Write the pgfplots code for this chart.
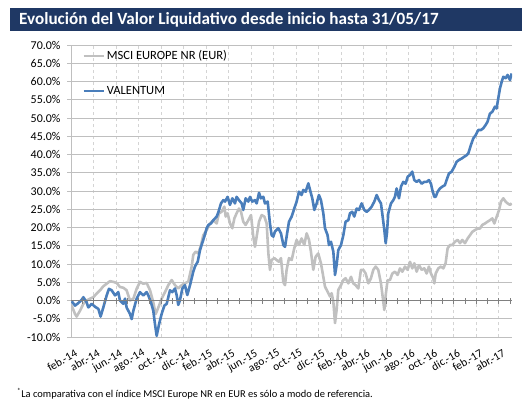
\documentclass[border=0pt]{standalone}
\usepackage{pgfplots}
\pgfplotsset{compat=1.18}
\usepackage{fontspec}
\setmainfont{Carlito}
\definecolor{titlebg}{HTML}{1F3864}
\definecolor{valblue}{HTML}{4A7EBB}
\definecolor{mscigray}{HTML}{C0C0C0}
\definecolor{hgrid}{HTML}{BFBFBF}
\definecolor{vgrid}{HTML}{D4D4D4}
\definecolor{zeroline}{HTML}{808080}

\begin{document}
\begin{tikzpicture}[x=1bp,y=1bp]
\useasboundingbox (0,0) rectangle (522,399);
\fill[titlebg] (10,368) rectangle (522,391);
\node[anchor=west, text=white, inner sep=0] at (19,379.5) {\fontsize{17.2}{20}\selectfont\bfseries Evolución del Valor Liquidativo desde inicio hasta 31/05/17};
\node[anchor=base west, inner sep=0] at (17,1.5) {\fontsize{10.5}{12}\selectfont\textsuperscript{*}La comparativa con el índice MSCI Europe NR en EUR es sólo a modo de referencia.};

\begin{axis}[
  at={(71bp,62bp)}, anchor=south west,
  scale only axis, width=441bp, height=292bp,
  xmin=0, xmax=39.17, ymin=-10, ymax=70,
  axis x line*=bottom, axis y line*=left,
  axis line style={hgrid, line width=1bp},
  xtick={0,2,...,38},
  xticklabels={feb.-14,abr.-14,jun.-14,ago.-14,oct.-14,dic.-14,feb.-15,abr.-15,jun.-15,ago.-15,oct.-15,dic.-15,feb.-16,abr.-16,jun.-16,ago.-16,oct.-16,dic.-16,feb.-17,abr.-17},
  ytick={-10,-5,...,70},
  yticklabel={\pgfmathprintnumber[fixed,fixed zerofill,precision=1]{\tick}\%},
  /pgf/number format/assume math mode=true,
  ticklabel style={font=\fontsize{12}{14}\selectfont, text=black},
  yticklabel style={xshift=-3bp},
  xticklabel style={rotate=30, anchor=north east, inner sep=1bp, yshift=-7bp, font=\fontsize{11.5}{13}\selectfont},
  x tick style={draw=none},
  y tick style={hgrid, line width=1bp},
  tick align=outside, major tick length=4bp,
  ymajorgrids, xmajorgrids,
  y grid style={hgrid, line width=1bp},
  x grid style={vgrid, line width=0.8bp, dash pattern=on 3bp off 3bp},
  legend style={draw=none, fill=none, at={(0.025,0.988)}, anchor=north west,
    font=\fontsize{12.6}{14}\selectfont, row sep=21bp, inner sep=0pt},
  legend cell align=left,
  legend image code/.code={\draw[#1] (0bp,0bp) -- (20bp,0bp);},
]
\addplot[color=mscigray, line width=2.6bp, line join=round] table {
0.06 -1.4
0.36 -3.7
0.50 -4.4
0.80 -2.8
1.10 -0.9
1.39 0.0
1.69 0.5
1.98 0.9
2.28 1.9
2.58 2.8
2.87 3.9
3.17 4.6
3.46 5.3
3.76 5.1
4.06 4.8
4.35 3.7
4.65 3.5
4.94 2.8
5.24 0.0
5.54 0.5
5.83 3.2
6.13 5.1
6.42 4.6
6.72 4.8
7.02 2.8
7.31 -0.5
7.52 -3.7
7.76 -1.9
8.05 0.5
8.35 2.3
8.64 4.2
8.94 5.6
9.24 4.2
9.53 3.3
9.83 4.2
10.12 4.7
10.42 5.2
10.72 9.3
10.86 12.5
11.07 13.4
11.31 12.9
11.55 15.2
11.75 17.9
12.05 19.3
12.34 21.1
12.64 22.0
12.94 21.1
13.14 23.9
13.38 24.3
13.62 25.7
13.74 23.0
13.91 23.9
14.12 21.1
14.33 19.8
14.51 22.5
14.71 23.9
14.92 25.2
15.10 24.3
15.30 21.6
15.51 20.7
15.75 22.0
15.99 23.4
16.19 17.5
16.34 14.7
16.49 17.5
16.70 21.6
16.93 23.4
17.17 23.0
17.38 21.1
17.53 12.9
17.67 8.4
17.82 11.1
18.06 11.6
18.26 11.1
18.47 10.6
18.65 11.6
18.86 5.0
19.01 4.2
19.15 8.4
19.36 11.6
19.60 11.1
19.83 14.3
20.04 16.6
20.25 15.2
20.48 17.0
20.72 15.2
20.93 18.4
21.14 16.6
21.31 13.4
21.52 8.4
21.73 12.0
21.96 12.9
22.20 10.2
22.41 6.5
22.56 3.8
22.79 2.4
23.00 1.1
23.15 2.0
23.30 -0.3
23.45 -6.2
23.59 -2.6
23.74 2.9
23.98 4.2
24.19 5.6
24.39 6.1
24.63 4.7
24.87 6.5
25.07 4.7
25.28 4.2
25.52 3.3
25.75 8.4
25.96 8.4
26.17 7.4
26.41 4.7
26.64 6.1
26.85 8.4
27.06 9.3
27.29 8.4
27.53 4.7
27.68 1.1
27.83 -2.6
27.97 2.0
28.12 5.6
28.33 5.6
28.54 7.4
28.77 7.9
29.01 7.0
29.22 8.8
29.43 7.9
29.66 9.3
29.90 8.4
30.11 10.6
30.31 8.8
30.49 10.2
30.70 7.9
30.91 9.7
31.14 8.4
31.38 8.8
31.59 7.4
31.79 9.3
31.97 7.4
32.18 6.1
32.27 4.7
32.39 7.4
32.62 8.8
32.86 9.3
33.07 8.8
33.27 10.2
33.45 14.3
33.66 15.2
33.87 15.2
34.10 16.1
34.34 16.6
34.55 15.7
34.75 16.6
34.99 15.7
35.23 17.0
35.44 17.9
35.64 18.8
35.88 19.3
36.12 19.7
36.32 19.7
36.53 20.7
36.77 21.1
37.00 21.6
37.21 22.0
37.42 22.5
37.60 21.1
37.80 22.9
38.01 24.7
38.19 27.1
38.40 28.0
38.60 27.1
38.78 26.6
38.99 26.2
39.14 26.6
};
\addlegendentry{MSCI EUROPE NR (EUR)}
\addplot[color=valblue, line width=2.6bp, line join=round] table {
0.06 -0.2
0.36 -1.4
0.65 -0.7
0.95 0.2
1.10 0.9
1.39 -0.5
1.54 -1.9
1.84 -0.9
2.13 -1.7
2.43 -2.3
2.63 -4.4
2.87 -1.9
3.17 1.4
3.37 3.2
3.61 2.8
3.91 1.4
4.20 2.3
4.35 0.0
4.65 -0.9
4.80 0.5
4.94 -1.9
5.24 -3.7
5.39 -5.1
5.54 -2.8
5.83 0.5
6.13 2.3
6.42 1.4
6.72 2.3
6.87 1.4
7.10 -0.5
7.31 -2.8
7.46 -6.5
7.61 -9.7
7.82 -6.5
8.05 -3.7
8.29 -1.4
8.50 -0.9
8.79 2.8
9.00 2.3
9.24 3.3
9.38 1.5
9.53 -1.2
9.68 0.1
9.89 3.3
10.12 4.2
10.33 1.5
10.57 4.2
10.72 6.1
10.86 7.9
11.01 9.3
11.25 10.6
11.46 13.8
11.60 15.2
11.84 17.5
12.05 19.8
12.20 20.7
12.43 21.1
12.64 22.0
12.94 23.0
13.08 24.1
13.32 26.6
13.53 27.5
13.68 27.1
13.91 28.4
14.12 26.2
14.33 28.0
14.56 26.6
14.71 28.4
14.92 27.5
15.16 26.6
15.30 24.8
15.51 28.0
15.75 27.1
15.90 28.4
16.10 27.1
16.34 27.5
16.49 26.6
16.70 29.5
16.87 28.0
17.08 28.4
17.23 26.6
17.47 27.1
17.67 21.1
17.82 17.9
17.97 17.5
18.12 18.9
18.41 19.8
18.65 18.4
18.86 15.2
19.01 14.7
19.15 17.5
19.36 21.6
19.60 23.0
19.83 25.2
20.04 27.1
20.25 29.8
20.48 28.9
20.63 30.3
20.84 29.8
21.08 32.1
21.23 30.3
21.43 28.0
21.61 24.8
21.82 26.6
22.02 28.9
22.20 27.5
22.41 23.9
22.56 19.8
22.79 17.9
22.91 15.2
23.09 16.1
23.30 13.4
23.45 7.0
23.59 9.7
23.74 13.8
23.98 15.2
24.19 17.9
24.39 21.6
24.63 22.0
24.78 23.9
24.98 24.3
25.16 23.0
25.37 25.2
25.58 24.8
25.81 26.6
26.05 24.8
26.26 24.3
26.46 24.8
26.70 25.7
26.94 27.1
27.15 28.9
27.35 27.5
27.53 26.6
27.68 23.0
27.83 19.3
27.95 15.7
28.06 18.4
28.18 23.9
28.42 26.6
28.63 27.5
28.77 28.4
28.92 30.7
29.13 28.0
29.31 31.2
29.51 32.5
29.72 32.0
29.90 33.9
30.11 34.4
30.31 35.3
30.49 33.0
30.70 32.5
30.91 33.0
31.14 32.0
31.38 32.5
31.59 32.5
31.79 33.0
31.97 32.0
32.09 30.3
32.27 28.4
32.39 28.4
32.56 29.8
32.77 30.7
32.98 31.2
33.21 31.6
33.36 33.0
33.57 34.8
33.81 35.3
34.04 36.6
34.25 38.0
34.46 38.5
34.70 38.9
34.93 39.4
35.14 39.8
35.29 40.3
35.52 42.6
35.73 44.4
35.94 45.3
36.17 46.7
36.41 46.7
36.62 47.2
36.83 48.1
37.00 49.0
37.21 51.2
37.42 51.7
37.65 53.1
37.80 52.6
37.95 55.4
38.10 58.1
38.25 59.9
38.40 61.3
38.60 60.9
38.78 61.8
38.99 60.4
39.14 62.2
};
\addlegendentry{VALENTUM}
\end{axis}

\begin{axis}[
  at={(71bp,62bp)}, anchor=south west,
  scale only axis, width=441bp, height=292bp,
  xmin=0, xmax=39.17, ymin=-10, ymax=70,
  axis x line=middle, axis y line=none,
  x axis line style={-, zeroline, line width=0.9bp},
  xtick={1,2,...,39}, xticklabels={},
  x tick style={zeroline, line width=0.9bp},
  tick align=center, major tick length=6bp,
]
\end{axis}
\end{tikzpicture}
\end{document}
